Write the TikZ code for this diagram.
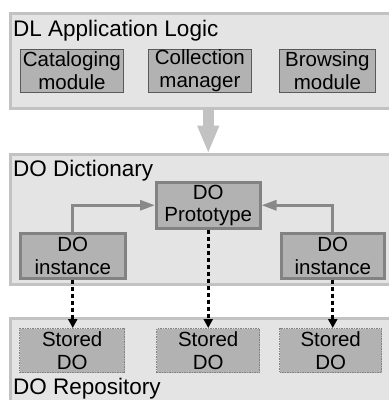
\documentclass[tikz,border=0pt]{standalone}
\usepackage{fontspec}
\setmainfont{Liberation Sans}
\usetikzlibrary{arrows.meta,calc}

\definecolor{layerfill}{HTML}{E4E4E4}
\definecolor{layerline}{HTML}{C2C2C2}
\definecolor{boxfill}{HTML}{B2B2B2}
\definecolor{boxline}{HTML}{828282}
\definecolor{linkgray}{HTML}{888888}

\tikzset{
  x=1pt, y=-1pt,
  layer/.style={draw=layerline, fill=layerfill, line width=2.5pt, rectangle, inner sep=0pt, anchor=north west},
  modbox/.style={draw=black!65, fill=boxfill, line width=0.8pt, rectangle, inner sep=0pt,
    anchor=north west, align=center, font=\fontsize{20.5}{22.5}\selectfont},
  dobox/.style={modbox, draw=boxline, line width=2.5pt},
  storedbox/.style={modbox, draw=boxline, line width=1.4pt, dash pattern=on 1.5pt off 1pt},
  layertitle/.style={anchor=base west, inner sep=0pt, font=\fontsize{22.5}{25}\selectfont},
  protolink/.style={draw=linkgray, line width=3pt, -{Triangle[length=15pt,width=10pt]}},
  storelink/.style={draw=black, line width=3pt, dash pattern=on 4pt off 3pt,
    -{Triangle[length=9pt,width=9pt]}},
  layerflow/.style={draw=layerline, line width=11pt, -{Triangle[length=28pt,width=20pt]}, shorten >=-0.5pt}
}

\begin{document}
\begin{tikzpicture}
\useasboundingbox (0,0) rectangle (389,400);
\clip (0,0) rectangle (389,400);

% three layers
\node[layer, minimum width=390pt, minimum height=95pt] (app) at (9,12) {};
\node[layer, minimum width=390pt, minimum height=130pt] (dict) at (9,153) {};
\node[layer, minimum width=390pt, minimum height=100pt] (repo) at (9,317) {};

\node[layertitle] (appT) at (13,36.5) {DL Application Logic};
\node[layertitle] (dictT) at (13,176) {DO Dictionary};
\node[layertitle] (repoT) at (13,394.5) {DO Repository};

% application modules
\node[modbox, minimum width=103pt, minimum height=43pt] (catm) at (20,49) {Cataloging\\module};
\node[modbox, minimum width=103pt, minimum height=43pt] (colm) at (148,49) {Collection\\manager};
\node[modbox, minimum width=96pt, minimum height=43pt] (brwm) at (279,49) {Browsing\\module};

% dictionary
\node[dobox, minimum width=104pt, minimum height=46pt] (proto) at (155,181) {DO\\Prototype};
\node[dobox, minimum width=105pt, minimum height=45pt] (instL) at (19,232) {DO\\instance};
\node[dobox, minimum width=103pt, minimum height=45pt] (instR) at (280,232) {DO\\instance};

% repository
\node[storedbox, minimum width=105pt, minimum height=44pt] (stL) at (19,328) {Stored\\DO};
\node[storedbox, minimum width=103pt, minimum height=44pt] (stM) at (156,328) {Stored\\DO};
\node[storedbox, minimum width=102pt, minimum height=44pt] (stR) at (279,328) {Stored\\DO};

% links
\draw[layerflow] (app.south -| proto.north) -- (dict.north -| proto.north);
\draw[protolink] (instL.north) |- (proto.west);
\draw[protolink] (instR.north) |- (proto.east);
\draw[storelink] (instL.south) -- (instL.south |- stL.north);
\draw[storelink] (proto.south) -- (proto.south |- stM.north);
\draw[storelink] (instR.south) -- (instR.south |- stR.north);
\end{tikzpicture}
\end{document}
